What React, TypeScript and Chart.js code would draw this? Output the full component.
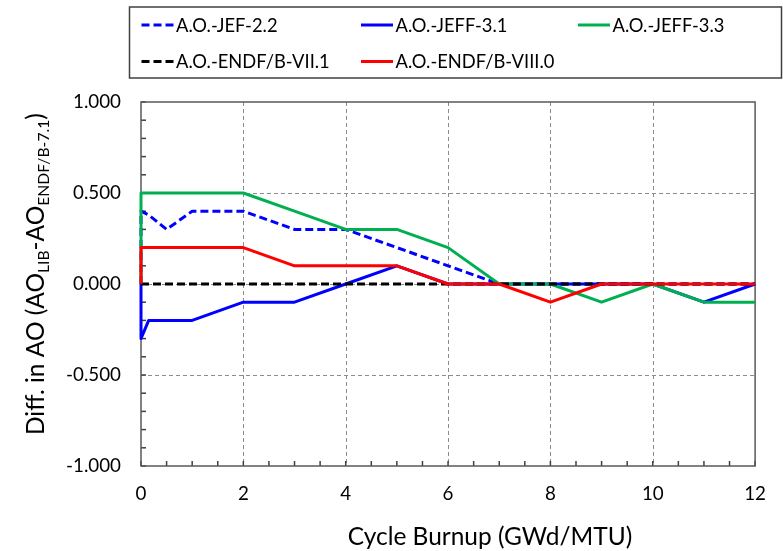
import React, { useEffect, useRef } from "react";
import { Chart, registerables } from "chart.js";

Chart.register(...registerables);

// ---- data ----
const burnup = [0, 0, 0.15, 0.5, 1, 2, 3, 4, 5, 6, 7, 8, 9, 10, 11, 12];
const jef22 = [0, 0.4, 0.38, 0.3, 0.4, 0.4, 0.3, 0.3, 0.2, 0.1, 0, 0, 0, 0, 0, 0];
const jeff31 = [0, -0.3, -0.2, -0.2, -0.2, -0.1, -0.1, 0, 0.1, 0, 0, 0, 0, 0, -0.1, 0];
const jeff33 = [0, 0.5, 0.5, 0.5, 0.5, 0.5, 0.4, 0.3, 0.3, 0.2, 0, 0, -0.1, 0, -0.1, -0.1];
const endf71 = [0, 0, 0, 0, 0, 0, 0, 0, 0, 0, 0, 0, 0, 0, 0, 0];
const endf80 = [0, 0.2, 0.2, 0.2, 0.2, 0.2, 0.1, 0.1, 0.1, 0, 0, -0.1, 0, 0, 0, 0];

const seriesLabels = [
  "A.O.-JEF-2.2",
  "A.O.-JEFF-3.1",
  "A.O.-JEFF-3.3",
  "A.O.-ENDF/B-VII.1",
  "A.O.-ENDF/B-VIII.0",
];
const xTitle = "Cycle Burnup (GWd/MTU)";
const yTitleParts: { t: string; sub: boolean }[] = [
  { t: "Diff. in AO (AO", sub: false },
  { t: "LIB", sub: true },
  { t: "-AO", sub: false },
  { t: "ENDF/B-7.1", sub: true },
  { t: ")", sub: false },
];

const FONT = "Lato, 'Open Sans', sans-serif";

const toPts = (ys: number[]) => ys.map((y, i) => ({ x: burnup[i], y }));

// font size so that a text reaches a target width
function fitSize(text: string, target: number): number {
  const c = document.createElement("canvas").getContext("2d")!;
  c.font = `20px ${FONT}`;
  const w = c.measureText(text).width;
  return (20 * target) / w;
}

function yTitleWidth(ctx: CanvasRenderingContext2D, big: number, small: number) {
  let total = 0;
  for (const p of yTitleParts) {
    ctx.font = `${p.sub ? small : big}px ${FONT}`;
    total += ctx.measureText(p.t).width;
  }
  return total;
}

const decorPlugin = {
  id: "decor",
  beforeDatasetsDraw(chart: any) {
    const { ctx, chartArea: a, scales } = chart;
    const xs = scales.x;
    const ys = scales.y;
    ctx.save();
    // dashed grid
    ctx.strokeStyle = "#8c8c8c";
    ctx.lineWidth = 1;
    ctx.setLineDash([4, 3]);
    for (let v = 2; v < 12; v += 2) {
      const x = Math.round(xs.getPixelForValue(v)) + 0.5;
      ctx.beginPath();
      ctx.moveTo(x, a.top);
      ctx.lineTo(x, a.bottom);
      ctx.stroke();
    }
    for (const v of [-0.5, 0, 0.5]) {
      const y = Math.round(ys.getPixelForValue(v)) + 0.5;
      ctx.beginPath();
      ctx.moveTo(a.left, y);
      ctx.lineTo(a.right, y);
      ctx.stroke();
    }
    ctx.setLineDash([]);
    // minor ticks
    ctx.strokeStyle = "#404040";
    ctx.lineWidth = 1.5;
    for (let i = 0; i <= 20; i++) {
      const y = ys.getPixelForValue(-1 + i * 0.1);
      ctx.beginPath();
      ctx.moveTo(a.left, y);
      ctx.lineTo(a.left + 5, y);
      ctx.stroke();
    }
    for (let i = 0; i <= 24; i++) {
      const x = xs.getPixelForValue(i * 0.5);
      ctx.beginPath();
      ctx.moveTo(x, a.bottom);
      ctx.lineTo(x, a.bottom - 5);
      ctx.stroke();
    }
    // plot box
    ctx.strokeStyle = "#595959";
    ctx.lineWidth = 1.5;
    ctx.strokeRect(a.left, a.top, a.right - a.left, a.bottom - a.top);
    ctx.restore();
  },
  afterDraw(chart: any) {
    const { ctx } = chart;
    ctx.save();
    // legend box
    ctx.strokeStyle = "#404040";
    ctx.lineWidth = 1.5;
    ctx.strokeRect(129.5, 7, 652, 71);
    const cols = [141.5, 361, 578];
    const rows = [25, 61.5];
    const legSize = fitSize("A.O.-JEFF-3.1", 112);
    ctx.font = `${legSize}px ${FONT}`;
    ctx.textBaseline = "middle";
    ctx.textAlign = "left";
    chart.data.datasets.forEach((ds: any, k: number) => {
      const cx = cols[k % 3];
      const cy = rows[Math.floor(k / 3)];
      ctx.strokeStyle = ds.borderColor;
      ctx.lineWidth = 3;
      ctx.setLineDash(ds.borderDash || []);
      ctx.beginPath();
      ctx.moveTo(cx, cy);
      ctx.lineTo(cx + 32, cy);
      ctx.stroke();
      ctx.setLineDash([]);
      ctx.fillStyle = "#000";
      ctx.fillText(ds.label, cx + 34.5, cy + 1);
    });
    // y title size (fits the measured length of the rotated title)
    let big = 25;
    let small = 16;
    const w0 = yTitleWidth(ctx, big, small);
    big = (big * 322) / w0;
    small = (small * 322) / w0;
    // x title, same font size as the y title
    ctx.font = `${big}px ${FONT}`;
    ctx.textAlign = "center";
    ctx.textBaseline = "middle";
    ctx.fillText(xTitle, 490, 537);
    // y title with subscripts
    ctx.translate(44, 435);
    ctx.rotate(-Math.PI / 2);
    ctx.textAlign = "left";
    ctx.textBaseline = "alphabetic";
    let x = 0;
    yTitleParts.forEach((p) => {
      ctx.font = `${p.sub ? small : big}px ${FONT}`;
      ctx.fillText(p.t, x, p.sub ? big * 0.2 : 0);
      x += ctx.measureText(p.t).width;
    });
    ctx.restore();
  },
};

export default function App() {
  const ref = useRef<HTMLCanvasElement>(null);
  useEffect(() => {
    if (!ref.current) return;
    const tickSize = fitSize("0.500", 48);
    const mk = (i: number, data: number[], color: string, dash: number[] | undefined, order: number) => ({
      label: seriesLabels[i],
      data: toPts(data),
      borderColor: color,
      backgroundColor: color,
      borderWidth: 3,
      borderDash: dash,
      borderCapStyle: "butt",
      borderJoinStyle: "round",
      pointRadius: 0,
      tension: 0,
      fill: false,
      clip: false,
      order,
    });
    const chart = new Chart(ref.current, {
      type: "line",
      data: {
        datasets: [
          mk(0, jef22, "#0000FF", [8, 4], 4),
          mk(1, jeff31, "#0000FF", undefined, 3),
          mk(2, jeff33, "#00B050", undefined, 2),
          mk(3, endf71, "#000000", [8, 4], 1),
          mk(4, endf80, "#FF0000", undefined, 0),
        ] as any,
      },
      options: {
        animation: false,
        responsive: true,
        maintainAspectRatio: false,
        layout: { padding: { top: 102, right: 25, left: 0, bottom: 0 } },
        plugins: { legend: { display: false }, tooltip: { enabled: false } },
        scales: {
          x: {
            type: "linear",
            min: 0,
            max: 12,
            ticks: {
              stepSize: 2,
              color: "#000",
              font: { family: FONT, size: tickSize },
              padding: 17,
              maxRotation: 0,
            },
            grid: { display: false, drawTicks: false },
            border: { display: false },
            afterFit: (s: any) => {
              s.height = 85;
            },
          },
          y: {
            min: -1,
            max: 1,
            ticks: {
              stepSize: 0.5,
              color: "#000",
              font: { family: FONT, size: tickSize },
              padding: 20,
              callback: (v: any) => Number(v).toFixed(3),
            },
            grid: { display: false, drawTicks: false },
            border: { display: false },
            afterFit: (s: any) => {
              s.width = 141;
            },
          },
        },
      },
      plugins: [decorPlugin],
    });
    return () => chart.destroy();
  }, []);
  return (
    <div style={{ position: "absolute", left: 0, top: 0, width: 783, height: 551, background: "#fff" }}>
      <canvas ref={ref} />
    </div>
  );
}
